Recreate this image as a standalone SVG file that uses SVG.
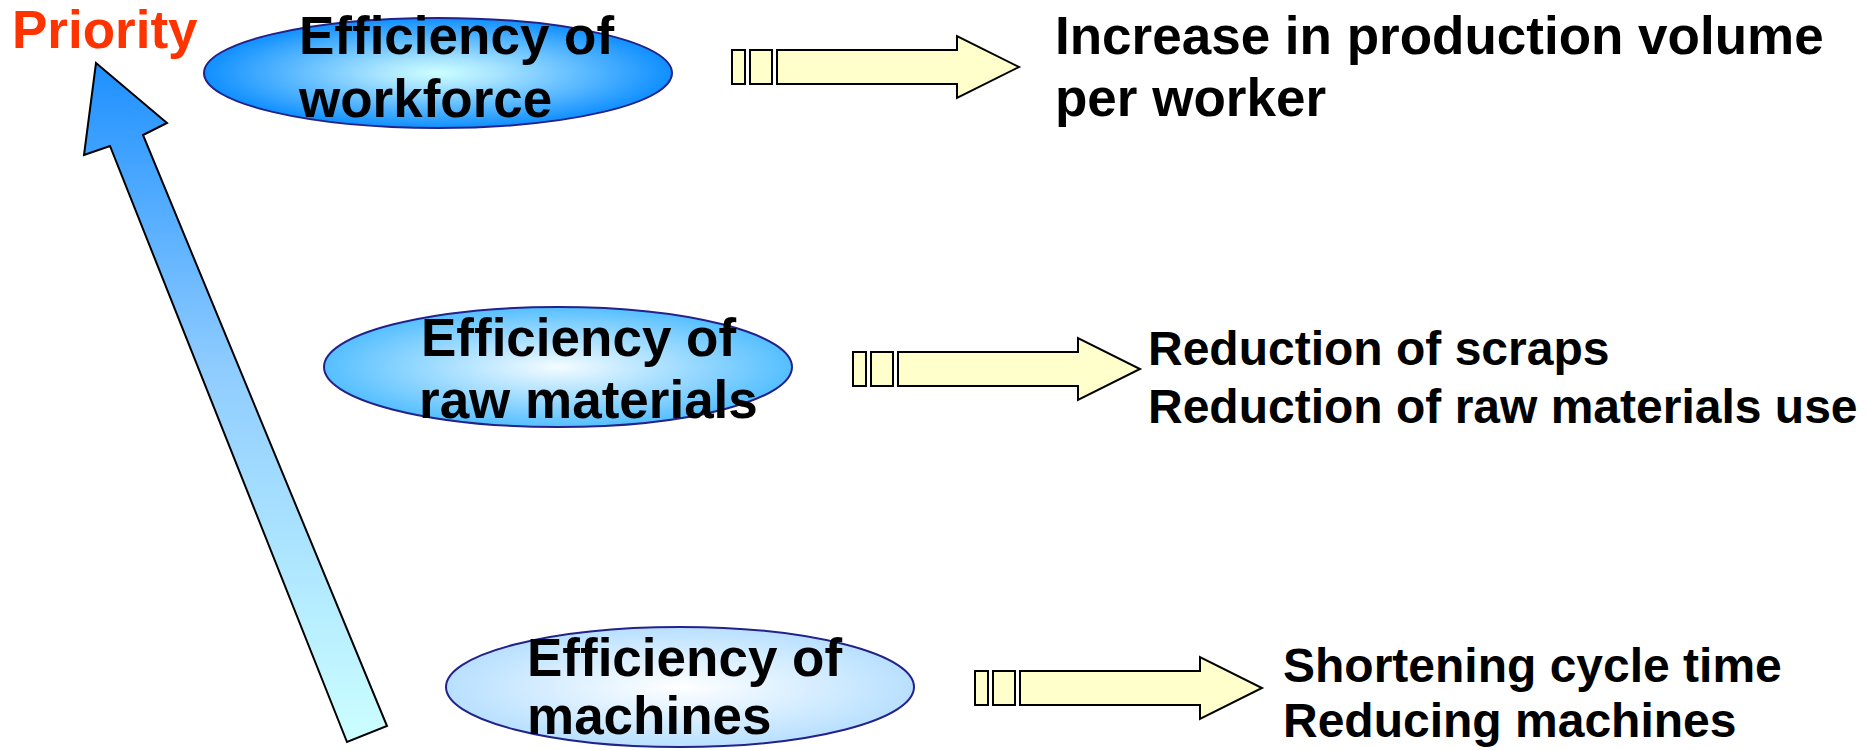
<svg xmlns="http://www.w3.org/2000/svg" width="1875" height="750" viewBox="0 0 1875 750">
  <defs>
    <radialGradient id="gWork" cx="50%" cy="50%" r="50%">
      <stop offset="0" stop-color="#CCFFFF"/>
      <stop offset="0.25" stop-color="#A8E4FF"/>
      <stop offset="1" stop-color="#0F8FFF"/>
    </radialGradient>
    <radialGradient id="gRaw" cx="50%" cy="50%" r="50%">
      <stop offset="0" stop-color="#F4FCFF"/>
      <stop offset="1" stop-color="#55BFFF"/>
    </radialGradient>
    <radialGradient id="gMach" cx="50%" cy="50%" r="50%">
      <stop offset="0" stop-color="#FFFFFF"/>
      <stop offset="1" stop-color="#B8E0FF"/>
    </radialGradient>
    <linearGradient id="gPrio" x1="0" y1="0" x2="0" y2="1">
      <stop offset="0" stop-color="#1E90FF"/>
      <stop offset="0.45" stop-color="#8FCCFF"/>
      <stop offset="1" stop-color="#CCFFFF"/>
    </linearGradient>
    <!-- striped block arrow, drawn at origin pointing right -->
    <g id="blockArrow">
      <rect x="0" y="-17" width="13" height="34"/>
      <rect x="18" y="-17" width="22" height="34"/>
      <path d="M45,-17 H225 V-31 L287,0 L225,31 V17 H45 Z"/>
    </g>
  </defs>
  <style>
    .node ellipse { stroke: #22228A; stroke-width: 2; }
    .lbl { font-family: "Liberation Sans", Arial, sans-serif; font-weight: bold; fill: #000; }
    .big { font-size: 53px; }
    .mid { font-size: 48px; }
    .prio { font-family: "Liberation Sans", Arial, sans-serif; font-weight: bold; font-size: 53px; fill: #FF3300; }
    .conn use { fill: #FFFFCC; stroke: #000; stroke-width: 2; stroke-linejoin: miter; }
  </style>

  <!-- priority axis -->
  <g id="priority">
    <path d="M96,63 L167,123 L143,135 L387,726 L347,742 L110,146 L84,155 Z" fill="url(#gPrio)" stroke="#000" stroke-width="2"/>
    <text class="prio" x="12" y="48">Priority</text>
  </g>

  <!-- efficiency nodes -->
  <g id="node-workforce" class="node">
    <ellipse cx="438" cy="73" rx="234" ry="55" fill="url(#gWork)"/>
    <text class="lbl big" x="299" y="54">Efficiency of</text>
    <text class="lbl big" x="299" y="117">workforce</text>
  </g>
  <g id="node-raw" class="node">
    <ellipse cx="558" cy="367" rx="234" ry="60" fill="url(#gRaw)"/>
    <text class="lbl big" x="421" y="356">Efficiency of</text>
    <text class="lbl big" x="419" y="418">raw materials</text>
  </g>
  <g id="node-machines" class="node">
    <ellipse cx="680" cy="687" rx="234" ry="60" fill="url(#gMach)"/>
    <text class="lbl big" x="527" y="676">Efficiency of</text>
    <text class="lbl big" x="527" y="734">machines</text>
  </g>

  <!-- connectors -->
  <g id="connectors" class="conn">
    <use href="#blockArrow" x="732" y="67"/>
    <use href="#blockArrow" x="853" y="369"/>
    <use href="#blockArrow" x="975" y="688"/>
  </g>

  <!-- outcomes -->
  <g id="out-workforce">
    <text class="lbl big" x="1055" y="54">Increase in production volume</text>
    <text class="lbl big" x="1055" y="116">per worker</text>
  </g>
  <g id="out-raw">
    <text class="lbl mid" x="1148" y="365">Reduction of scraps</text>
    <text class="lbl mid" x="1148" y="423">Reduction of raw materials use</text>
  </g>
  <g id="out-machines">
    <text class="lbl mid" x="1283" y="682">Shortening cycle time</text>
    <text class="lbl mid" x="1283" y="737">Reducing machines</text>
  </g>
</svg>
